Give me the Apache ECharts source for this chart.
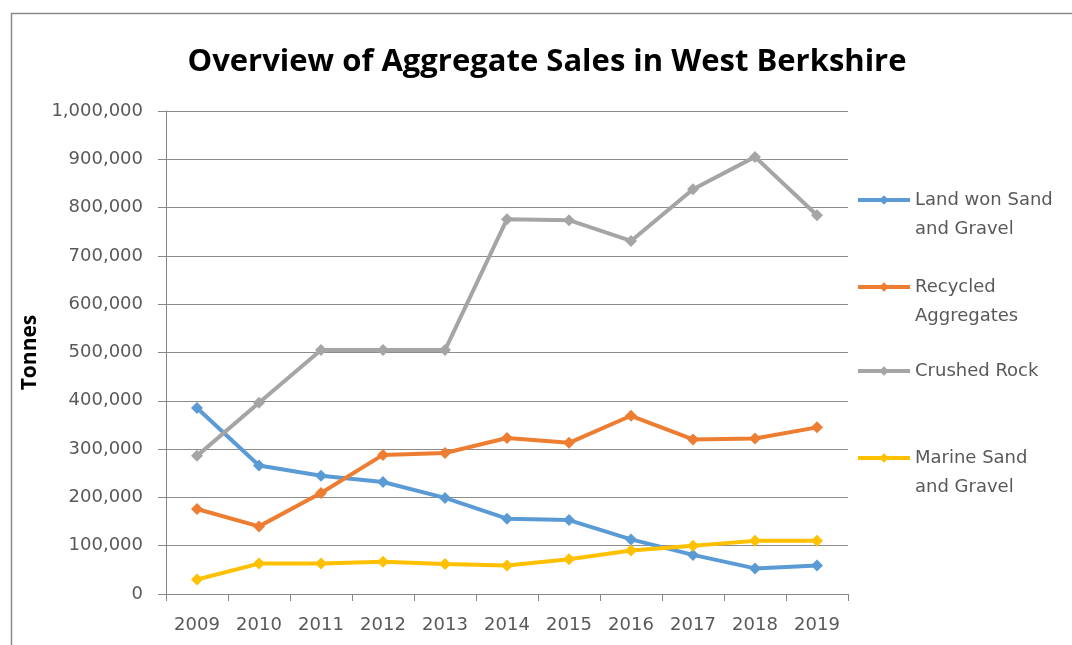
<!DOCTYPE html>
<html>
<head>
<meta charset="utf-8">
<script src="https://cdn.jsdelivr.net/npm/echarts@6/dist/echarts.min.js"></script>
<style>
  html, body { margin: 0; padding: 0; background: #fff; }
  #chart { width: 1072px; height: 645px; }
</style>
</head>
<body>
<div id="chart"></div>
<script>
var years = ["2009", "2010", "2011", "2012", "2013", "2014", "2015", "2016", "2017", "2018", "2019"];
var landWon = [385000, 266000, 245000, 232000, 199000, 156000, 153000, 113000, 81000, 53000, 59000];
var recycled = [176000, 140000, 209000, 288000, 292000, 323000, 313000, 369000, 320000, 322000, 345000];
var crushedRock = [286000, 396000, 505000, 505000, 505000, 776000, 774000, 731000, 838000, 905000, 784000];
var marine = [30000, 63000, 63000, 67000, 62000, 59000, 72000, 90000, 100000, 110000, 110000];

var names = ["Land won Sand\nand Gravel", "Recycled\nAggregates", "Crushed Rock", "Marine Sand\nand Gravel"];
var colors = ["#5B9BD5", "#ED7D31", "#A5A5A5", "#FFC000"];
var seriesData = [landWon, recycled, crushedRock, marine];

var chart = echarts.init(document.getElementById("chart"));

var lineH = 29;
var legendCenters = [200, 287, 371, 458];
// two-line names get an empty first line so the icon sits level with the first real line
var legends = names.map(function (n, i) {
  var lines = n.split("\n");
  var multi = lines.length > 1;
  return {
    data: [n],
    orient: "vertical",
    left: 856,
    top: multi ? legendCenters[i] - 1.5 * lineH : legendCenters[i] - lineH / 2,
    padding: 0,
    itemWidth: 52,
    itemHeight: 12,
    selectedMode: false,
    lineStyle: { width: 4 },
    formatter: function (name) {
      var ls = name.split("\n").map(function (l) { return "{t|" + l + "}"; });
      if (ls.length > 1) ls.unshift("{t| }");
      return ls.join("\n");
    },
    textStyle: {
      rich: {
        t: { color: "#595959", fontSize: 18, fontFamily: "DejaVu Sans", lineHeight: lineH, height: lineH }
      }
    }
  };
});

var option = {
  animation: false,
  backgroundColor: "#fff",
  title: {
    text: "Overview of Aggregate Sales in West Berkshire",
    left: 542,
    textAlign: "center",
    top: 42,
    textStyle: { color: "#000", fontSize: 31, fontWeight: "bold", fontFamily: "Open Sans" }
  },
  graphic: [{
    type: "rect",
    shape: { x: 11.5, y: 13.5, width: 1100, height: 700 },
    style: { fill: "none", stroke: "#8a8a8a", lineWidth: 1.5 },
    silent: true
  }],
  legend: legends,
  grid: { left: 166, right: 224, top: 111, bottom: 51 },
  xAxis: {
    type: "category",
    data: years,
    boundaryGap: true,
    axisLine: { lineStyle: { color: "#868686", width: 1 } },
    axisTick: { show: true, length: 7, lineStyle: { color: "#868686" } },
    axisLabel: { color: "#595959", fontSize: 18, fontFamily: "DejaVu Sans", margin: 22 }
  },
  yAxis: {
    type: "value",
    min: 0,
    max: 1000000,
    interval: 100000,
    name: "Tonnes",
    nameLocation: "middle",
    nameGap: 112,
    nameRotate: 90,
    nameTextStyle: { color: "#000", fontSize: 21, fontWeight: "bold", fontFamily: "Open Sans" },
    axisLine: { show: true, lineStyle: { color: "#868686", width: 1 } },
    axisTick: { show: true, length: 8, lineStyle: { color: "#868686" } },
    axisLabel: {
      color: "#595959", fontSize: 18, fontFamily: "DejaVu Sans", margin: 23,
      formatter: function (v) { return v.toLocaleString("en-US"); }
    },
    splitLine: { lineStyle: { color: "#8c8c8c", width: 1 } }
  },
  series: names.map(function (n, i) {
    return {
      name: n,
      type: "line",
      data: seriesData[i],
      symbol: "diamond",
      symbolSize: 12,
      color: colors[i],
      lineStyle: { width: 4, color: colors[i] },
      itemStyle: { color: colors[i] }
    };
  })
};

chart.setOption(option);
</script>
</body>
</html>
